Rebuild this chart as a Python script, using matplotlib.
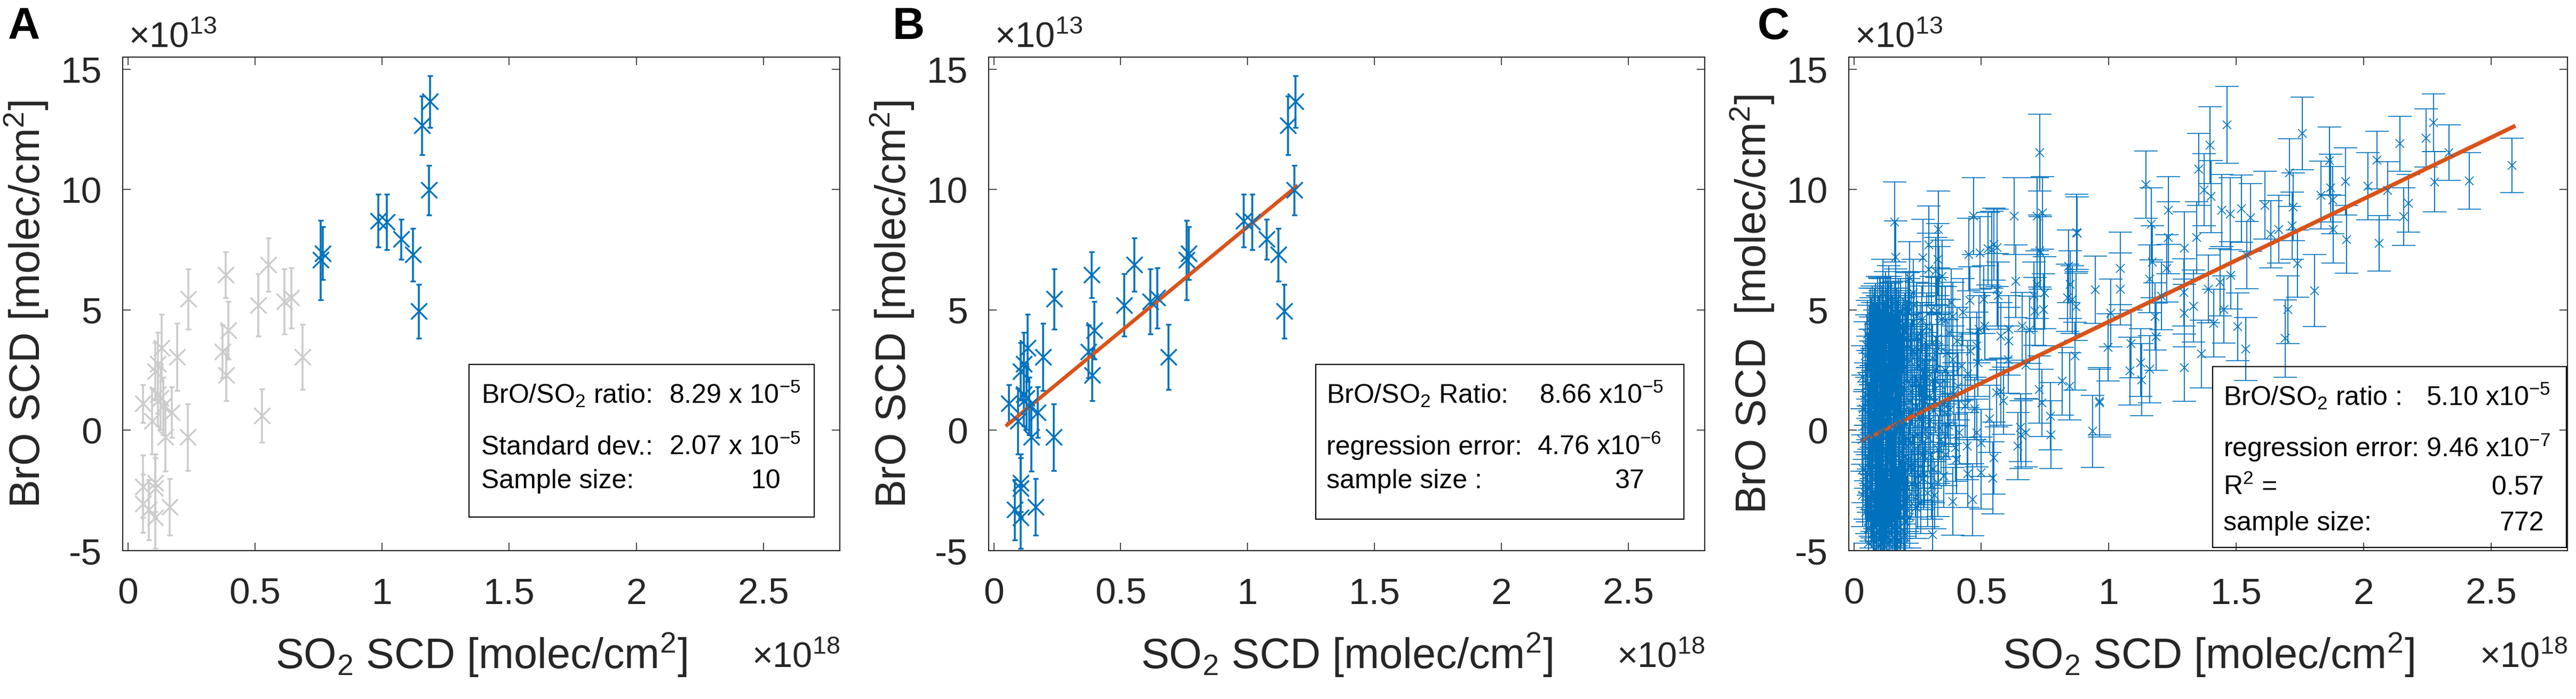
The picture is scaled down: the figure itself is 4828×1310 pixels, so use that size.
import numpy as np
import matplotlib
matplotlib.use('Agg')
import matplotlib.pyplot as plt
from matplotlib.patches import Rectangle

plt.rcParams['font.family'] = ['Liberation Sans', 'DejaVu Sans']
plt.rcParams['mathtext.fontset'] = 'custom'
plt.rcParams['mathtext.rm'] = 'Liberation Sans'
plt.rcParams['mathtext.it'] = 'Liberation Sans:italic'
plt.rcParams['mathtext.bf'] = 'Liberation Sans:bold'

# values: SO2 in 1e18 molec/cm2, BrO and errors in 1e13 molec/cm2
# points used for the ratio in A (blue)
ratio_pts = [
    (0.759, 7.07, 1.65), (0.767, 7.35, 1.10), (0.985, 8.70, 1.10), (1.019, 8.65, 1.15),
    (1.075, 7.94, 0.83), (1.122, 7.29, 1.10), (1.145, 4.94, 1.12), (1.158, 12.67, 1.22),
    (1.188, 13.65, 1.08), (1.184, 9.98, 1.03),
]
# rest of the 37 points of B (gray in A)
other_pts = [
    (0.059, 1.11, 0.78), (0.096, 0.38, 1.36), (0.107, 2.44, 1.20), (0.119, 2.76, 1.30),
    (0.119, 1.49, 1.30), (0.129, 1.34, 1.30), (0.133, 3.42, 1.40), (0.148, -0.29, 1.40),
    (0.174, 0.75, 1.05), (0.194, 3.04, 1.40), (0.239, 5.45, 1.25), (0.237, -0.29, 1.39),
    (0.373, 3.27, 1.10), (0.396, 4.16, 1.20), (0.388, 2.30, 1.07), (0.385, 6.46, 0.95),
    (0.513, 5.20, 1.30), (0.553, 6.88, 1.10), (0.616, 5.35, 1.35), (0.644, 5.50, 1.25),
    (0.688, 3.04, 1.35), (0.107, -2.18, 1.20), (0.107, -2.40, 1.25), (0.107, -3.62, 1.30),
    (0.165, -3.18, 1.17), (0.140, 1.00, 1.20), (0.082, -3.30, 1.25),
]
# gray points only seen in A
a_extra_pts = [(0.528, 0.61, 1.10), (0.060, -2.33, 1.30), (0.060, -3.04, 1.20)]

fit_b_x = [0.047, 1.197]
fit_b_y = [0.17, 10.17]

# panel C, dense part at low SO2
c_cluster = [
    (0.034, 2.2, 1.3), (0.036, 0.9, 1.4), (0.033, -0.4, 1.3), (0.037, -1.6, 1.4), (0.035, -2.7, 1.3),
    (0.044, 3.1, 1.4), (0.046, 1.5, 1.3), (0.043, 0.2, 1.4), (0.047, -1.1, 1.3), (0.045, -2.3, 1.4), (0.048, -3.4, 1.3),
    (0.054, 4.0, 1.4), (0.056, 2.6, 1.3), (0.053, 1.2, 1.4), (0.057, -0.3, 1.3), (0.055, -1.8, 1.4), (0.052, -3.0, 1.3), (0.058, -4.1, 1.4),
    (0.064, 4.6, 1.3), (0.066, 3.3, 1.4), (0.063, 1.9, 1.3), (0.067, 0.5, 1.4), (0.065, -0.9, 1.3), (0.062, -2.4, 1.4), (0.068, -3.6, 1.3),
    (0.074, 3.9, 1.4), (0.076, 2.4, 1.3), (0.073, 1.0, 1.4), (0.077, -0.5, 1.3), (0.075, -1.5, 1.4), (0.072, -2.9, 1.3), (0.078, -4.3, 1.4),
    (0.084, 4.8, 1.3), (0.086, 3.0, 1.4), (0.083, 1.6, 1.3), (0.087, 0.1, 1.4), (0.085, -1.2, 1.3), (0.082, -2.0, 1.4), (0.088, -3.3, 1.3), (0.086, -4.6, 1.4),
    (0.094, 4.2, 1.4), (0.096, 2.1, 1.3), (0.093, 0.7, 1.4), (0.097, -0.7, 1.3), (0.095, -2.6, 1.4), (0.092, -3.9, 1.3),
    (0.104, 5.0, 1.3), (0.106, 3.6, 1.4), (0.103, 2.3, 1.3), (0.107, 1.1, 1.4), (0.105, -0.2, 1.3), (0.102, -1.4, 1.4), (0.108, -3.0, 1.3), (0.106, -4.4, 1.4),
    (0.114, 4.4, 1.4), (0.116, 2.8, 1.3), (0.113, 1.4, 1.4), (0.117, 0.0, 1.3), (0.115, -1.9, 1.4), (0.112, -3.5, 1.3), (0.118, -4.8, 1.4),
    (0.124, 5.3, 1.3), (0.126, 3.7, 1.4), (0.123, 2.0, 1.3), (0.127, 0.6, 1.4), (0.125, -0.8, 1.3), (0.122, -2.2, 1.4), (0.128, -3.8, 1.3),
    (0.134, 4.7, 1.4), (0.136, 3.2, 1.3), (0.133, 1.7, 1.4), (0.137, 0.3, 1.3), (0.135, -1.3, 1.4), (0.132, -2.8, 1.3), (0.138, -4.2, 1.4),
    (0.144, 5.1, 1.3), (0.146, 3.9, 1.4), (0.143, 2.5, 1.3), (0.147, 0.9, 1.4), (0.145, -0.6, 1.3), (0.142, -1.7, 1.4), (0.148, -3.1, 1.3), (0.146, -4.6, 1.4),
    (0.154, 4.5, 1.4), (0.156, 2.9, 1.3), (0.153, 1.3, 1.4), (0.157, -0.1, 1.3), (0.155, -2.4, 1.4), (0.152, -3.7, 1.3),
    (0.164, 5.4, 1.3), (0.166, 3.5, 1.4), (0.163, 2.2, 1.3), (0.167, 0.8, 1.4), (0.165, -1.0, 1.3), (0.162, -2.7, 1.4), (0.168, -4.1, 1.3),
    (0.174, 4.9, 1.4), (0.176, 3.0, 1.3), (0.173, 1.5, 1.4), (0.177, -0.4, 1.3), (0.175, -1.8, 1.4), (0.172, -3.3, 1.3),
    (0.184, 4.3, 1.3), (0.186, 2.6, 1.4), (0.183, 1.1, 1.3), (0.187, -0.9, 1.4), (0.185, -2.5, 1.3), (0.182, -4.0, 1.4),
    (0.194, 4.1, 1.4), (0.196, 2.4, 1.3), (0.193, 0.4, 1.4), (0.197, -1.5, 1.3), (0.195, -3.0, 1.4),
    (0.208, 3.8, 1.4), (0.212, 2.0, 1.3), (0.207, 0.2, 1.4), (0.213, -1.2, 1.3), (0.210, -2.8, 1.4),
    (0.224, 4.4, 1.3), (0.227, 1.6, 1.4), (0.222, -0.5, 1.3), (0.226, -2.2, 1.4),
    (0.238, 3.2, 1.4), (0.242, 1.0, 1.3), (0.239, -0.8, 1.4), (0.243, -3.2, 1.3),
    (0.253, 2.7, 1.3), (0.257, 0.5, 1.4), (0.254, -1.9, 1.3),
    (0.268, 3.5, 1.4), (0.272, 1.3, 1.3), (0.270, -1.0, 1.4),
    (0.288, 2.2, 1.3), (0.292, -0.3, 1.4),
    (0.308, 3.0, 1.4), (0.312, 0.8, 1.3), (0.311, -1.6, 1.4),
    (0.338, 1.9, 1.3), (0.342, -0.4, 1.4),
    (0.358, 2.5, 1.4), (0.362, -1.0, 1.3),
]
# more of the dense part, filling between the ones above
c_cluster2 = [
    (0.051, 3.5, 1.3), (0.059, 0.6, 1.4), (0.061, -1.3, 1.3), (0.069, 2.8, 1.4), (0.071, -2.0, 1.3),
    (0.079, 4.3, 1.4), (0.081, 0.4, 1.3), (0.089, -0.8, 1.4), (0.091, 2.7, 1.3), (0.099, -3.2, 1.4),
    (0.101, 1.8, 1.3), (0.109, 4.1, 1.4), (0.111, -1.0, 1.3), (0.119, 3.1, 1.4), (0.121, -2.9, 1.3),
    (0.129, 1.2, 1.4), (0.131, -4.4, 1.3), (0.139, 2.4, 1.4), (0.141, -0.3, 1.3), (0.149, 4.2, 1.4),
    (0.151, -2.0, 1.3), (0.159, 3.8, 1.4), (0.161, 0.2, 1.3), (0.169, -3.4, 1.4), (0.171, 2.6, 1.3),
    (0.179, 0.7, 1.4), (0.181, -4.6, 1.3), (0.189, 3.6, 1.4), (0.191, -1.9, 1.3), (0.199, 1.7, 1.4),
    (0.201, -3.8, 1.3), (0.056, 1.9, 1.4), (0.066, -3.1, 1.3), (0.076, 3.4, 1.4), (0.086, -2.6, 1.3),
    (0.096, 3.8, 1.4), (0.106, -2.5, 1.3), (0.116, 4.9, 1.4), (0.126, -1.5, 1.3), (0.136, 4.0, 1.4),
    (0.146, -3.5, 1.3), (0.156, 3.4, 1.4), (0.166, -1.9, 1.3), (0.176, 4.4, 1.4), (0.186, -3.2, 1.3),
    (0.196, 3.0, 1.4), (0.058, -4.7, 1.3), (0.068, 4.1, 1.4), (0.078, -3.8, 1.3), (0.088, 2.2, 1.4),
    (0.098, -4.8, 1.3), (0.108, 0.3, 1.4), (0.118, -4.0, 1.3), (0.128, 4.4, 1.4), (0.138, -3.4, 1.3),
    (0.148, 1.6, 1.4), (0.158, -4.5, 1.3), (0.168, 4.5, 1.4), (0.178, -2.6, 1.3), (0.188, 0.1, 1.4),
    (0.198, -4.4, 1.3), (0.053, -2.4, 1.4), (0.063, 2.9, 1.3), (0.073, -0.2, 1.4), (0.083, 3.7, 1.3),
    (0.093, -1.7, 1.4), (0.103, 4.5, 1.3), (0.113, -0.7, 1.4), (0.123, 2.8, 1.3), (0.133, -2.1, 1.4),
    (0.143, 3.3, 1.3), (0.153, -1.4, 1.4), (0.163, 1.6, 1.3), (0.173, -4.3, 1.4), (0.183, 3.3, 1.3),
    (0.193, -2.3, 1.4),
    (0.215, 4.9, 1.4), (0.218, -3.6, 1.3), (0.221, 2.9, 1.4), (0.229, -1.4, 1.3), (0.232, 0.8, 1.4),
    (0.236, 5.2, 1.4), (0.241, -2.3, 1.3), (0.247, 3.9, 1.4), (0.251, -0.2, 1.3), (0.259, 1.9, 1.4),
    (0.263, -3.0, 1.3), (0.266, 4.6, 1.4), (0.274, -2.0, 1.3), (0.279, 2.3, 1.4), (0.282, 0.0, 1.3),
    (0.286, 4.3, 1.4), (0.296, 1.4, 1.3), (0.301, -1.0, 1.4), (0.304, 5.0, 1.4), (0.315, 2.1, 1.3),
    (0.318, -2.7, 1.4), (0.326, 3.8, 1.4), (0.335, 0.1, 1.3), (0.345, 4.6, 1.4), (0.352, -1.9, 1.3),
    (0.365, 3.2, 1.4), (0.371, 0.2, 1.3), (0.382, 5.3, 1.4), (0.392, 1.5, 1.3), (0.405, 3.7, 1.4),
    (0.414, -0.1, 1.3), (0.428, 4.9, 1.4), (0.436, 1.0, 1.3), (0.447, -1.8, 1.4), (0.455, 5.4, 1.4),
    (0.474, 0.9, 1.3), (0.482, 3.5, 1.4),
]
c_cluster3 = [
    (0.081, 4.6, 1.3), (0.084, -0.4, 1.4), (0.087, -3.9, 1.3), (0.091, 1.1, 1.4), (0.094, 5.1, 1.3),
    (0.097, -2.2, 1.4), (0.100, 3.3, 1.3), (0.103, -3.6, 1.4), (0.105, 1.6, 1.3), (0.108, -1.8, 1.4),
    (0.110, 4.7, 1.3), (0.112, 2.1, 1.4), (0.114, -4.3, 1.3), (0.117, -2.6, 1.4), (0.119, 0.9, 1.3),
    (0.121, 3.9, 1.4), (0.124, -3.3, 1.3), (0.126, 1.9, 1.4), (0.128, -0.2, 1.3), (0.130, 5.0, 1.4),
    (0.132, -1.1, 1.3), (0.134, 2.7, 1.4), (0.137, -4.7, 1.3), (0.139, 0.5, 1.4), (0.141, 3.6, 1.3),
    (0.143, -2.5, 1.4), (0.145, 4.5, 1.3), (0.148, -0.9, 1.4), (0.150, 2.2, 1.3), (0.152, -4.1, 1.4),
    (0.154, 0.7, 1.3), (0.157, 3.0, 1.4), (0.159, -2.8, 1.3), (0.161, 4.8, 1.4), (0.163, -0.6, 1.3),
    (0.165, 2.9, 1.4), (0.167, -3.9, 1.3), (0.170, 1.2, 1.4), (0.172, 4.1, 1.3), (0.174, -2.3, 1.4),
    (0.176, 0.3, 1.3), (0.179, 3.4, 1.4), (0.181, -1.4, 1.3), (0.183, 4.9, 1.4), (0.185, -3.6, 1.3),
    (0.188, 1.9, 1.4), (0.190, -0.5, 1.3), (0.192, 3.9, 1.4), (0.195, -4.2, 1.3), (0.197, 1.1, 1.4),
    (0.200, 4.4, 1.3), (0.203, -1.7, 1.4), (0.206, 2.6, 1.3), (0.209, -3.3, 1.4), (0.205, 5.3, 1.3),
    (0.060, 3.8, 1.4), (0.062, -0.5, 1.3), (0.065, 2.3, 1.4), (0.067, -3.3, 1.3), (0.070, 1.3, 1.4),
    (0.072, 4.7, 1.3), (0.074, -1.0, 1.4), (0.077, -4.6, 1.3), (0.079, 2.0, 1.4), (0.082, -2.8, 1.3),
    (0.085, 0.9, 1.4), (0.088, 4.0, 1.3), (0.090, -1.6, 1.4), (0.092, -4.3, 1.3), (0.095, 3.0, 1.4),
    (0.098, 0.1, 1.3), (0.101, -0.9, 1.4), (0.104, 2.9, 1.3), (0.107, -4.0, 1.4), (0.109, 1.4, 1.3),
    (0.113, 3.5, 1.4), (0.116, -1.6, 1.3), (0.120, 1.6, 1.4), (0.123, -4.6, 1.3), (0.127, 3.2, 1.4),
    (0.131, -2.4, 1.3), (0.135, 0.9, 1.4), (0.140, -3.9, 1.3), (0.144, 1.2, 1.4), (0.149, -1.3, 1.3),
    (0.153, 3.7, 1.4), (0.158, -0.7, 1.3), (0.162, -4.7, 1.4), (0.166, 2.4, 1.3), (0.171, -2.9, 1.4),
    (0.175, 1.9, 1.3), (0.180, -0.2, 1.4), (0.184, -4.6, 1.3), (0.189, 2.8, 1.4), (0.194, -1.2, 1.3),
    (0.199, 0.8, 1.4), (0.204, -2.3, 1.3), (0.211, 3.4, 1.4), (0.216, -0.4, 1.3), (0.220, 1.2, 1.4),
    (0.230, 3.3, 1.3), (0.235, -1.6, 1.4), (0.245, 2.1, 1.3), (0.250, -2.7, 1.4), (0.260, 4.0, 1.3),
    (0.265, 0.9, 1.4), (0.277, -1.8, 1.3), (0.283, 3.0, 1.4), (0.298, 0.4, 1.3), (0.305, -2.3, 1.4),
    (0.320, 1.2, 1.3), (0.330, 3.4, 1.4), (0.348, 1.1, 1.3),
]
# panel C, scattered points below 1e18
c_low = [
    (0.159, 8.65, 1.67), (0.164, 7.20, 1.5), (0.218, 6.33, 1.5), (0.271, 7.16, 1.6), (0.294, 7.71, 1.6),
    (0.332, 8.34, 1.6), (0.329, 7.09, 1.5), (0.294, 6.68, 1.5), (0.346, 6.40, 1.5), (0.325, 4.94, 1.4),
    (0.388, 4.74, 1.4), (0.374, 4.04, 1.4), (0.469, 8.89, 1.6), (0.451, 7.30, 1.5), (0.496, 7.37, 1.5),
    (0.542, 7.50, 1.6), (0.563, 7.58, 1.6), (0.629, 8.89, 1.6), (0.636, 6.19, 1.5), (0.720, 8.89, 1.6),
    (0.731, 7.37, 1.5), (0.729, 11.53, 1.6), (0.843, 6.81, 1.5), (0.874, 8.20, 1.6), (0.857, 5.43, 1.4),
    (0.948, 5.84, 1.4), (0.965, 1.20, 1.4), (0.937, -0.04, 1.5), (0.846, 1.83, 1.4), (0.818, 2.04, 1.4),
    (0.773, -0.18, 1.4), (0.657, -0.18, 1.4), (0.643, -0.66, 1.4), (0.675, -0.11, 1.4), (0.738, 1.14, 1.4),
    (0.727, 1.69, 1.4), (0.748, 5.71, 1.5), (0.745, 5.01, 1.5), (0.689, 4.18, 1.4), (0.661, 4.32, 1.4),
    (0.605, 2.94, 1.4), (0.608, 3.70, 1.4), (0.577, 3.91, 1.4), (0.559, 1.55, 1.4), (0.545, -1.98, 1.5),
    (0.549, -1.15, 1.5), (0.563, 5.84, 1.5), (0.510, 5.43, 1.4), (0.514, 4.32, 1.4), (0.486, 2.80, 1.4),
    (0.500, -0.53, 1.4), (0.500, -1.77, 1.5), (0.465, -2.88, 1.5), (0.444, -0.66, 1.4), (0.483, -0.11, 1.4),
    (0.458, 3.28, 1.4), (0.423, 2.66, 1.4), (0.388, 2.94, 1.4), (0.388, -2.95, 1.4), (0.402, -1.22, 1.4),
    (0.409, 1.83, 1.4), (0.367, 1.07, 1.4), (0.378, 0.86, 1.4), (0.357, 0.72, 1.4), (0.332, -0.80, 1.4),
    (0.329, -2.19, 1.4), (0.308, -4.34, 1.4), (0.290, -2.60, 1.4), (0.322, 2.52, 1.4), (0.276, 1.55, 1.4),
    (0.269, 0.44, 1.4), (0.269, -0.53, 1.4), (0.262, -1.50, 1.4), (0.297, 3.49, 1.4), (0.269, 3.91, 1.4),
    (0.262, 2.80, 1.4), (0.283, 2.66, 1.4), (0.245, 4.74, 1.4), (0.234, 5.71, 1.4), (0.213, 5.15, 1.4),
    (0.115, 5.71, 1.4), (0.136, 5.43, 1.4), (0.147, 4.74, 1.4), (0.101, 4.94, 1.4), (0.098, 4.18, 1.4),
    (0.073, -3.16, 1.3), (0.080, -4.40, 1.3), (0.122, -4.40, 1.3), (0.171, -4.27, 1.3), (0.157, -3.30, 1.3),
    (0.199, -2.60, 1.3), (0.964, 1.13, 1.4), (0.877, 8.19, 1.5), (0.872, 5.13, 1.4), (0.868, 3.08, 1.4),
    (0.849, 6.05, 1.4), (0.838, 5.50, 1.4), (0.772, 0.58, 1.4), (0.740, 9.03, 1.5), (0.729, 7.45, 1.5),
    (0.718, 6.05, 1.4), (0.711, 4.94, 1.4), (0.707, 5.59, 1.4), (0.675, 2.71, 1.4), (0.655, 0.11, 1.4),
    (0.609, 4.20, 1.4), (0.587, 1.23, 1.4), (0.577, 1.60, 1.4), (0.566, 5.59, 1.4), (0.550, 7.73, 1.5),
    (0.533, 0.48, 1.4), (0.527, 7.54, 1.5), (0.490, 4.20, 1.4), (0.446, 2.34, 1.4), (0.398, -0.72, 1.4),
    (0.359, 4.57, 1.4), (0.333, 6.24, 1.4), (0.322, 6.61, 1.4),
]
# panel C, points above 1e18
c_high = [
    (1.045, 6.72, 1.5), (1.045, 5.87, 1.5), (1.007, 4.87, 1.4), (0.997, 3.45, 1.4), (1.087, 3.59, 1.4),
    (1.084, 2.46, 1.4), (1.126, 2.81, 1.4), (1.129, 2.10, 1.5), (1.161, 2.53, 1.4), (1.147, 10.20, 1.4),
    (1.168, 8.57, 1.5), (1.171, 7.00, 1.5), (1.161, 6.29, 1.4), (1.182, 4.73, 1.4), (1.185, 3.88, 1.4),
    (1.206, 5.58, 1.4), (1.234, 9.13, 1.4), (1.234, 8.00, 1.5), (1.227, 6.72, 1.4), (1.297, 7.57, 1.5),
    (1.294, 5.72, 1.4), (1.297, 4.87, 1.4), (1.297, 2.60, 1.4), (1.332, 5.16, 1.5), (1.346, 8.00, 1.5),
    (1.353, 10.84, 1.5), (1.374, 9.99, 1.5), (1.398, 11.84, 1.6), (1.402, 9.71, 1.5), (1.364, 3.17, 1.4),
    (1.392, 5.87, 1.4), (1.413, 4.45, 1.4), (1.437, 6.15, 1.4), (1.444, 9.13, 1.5), (1.465, 12.69, 1.6),
    (1.476, 8.99, 1.5), (1.479, 6.44, 1.4), (1.451, 5.02, 1.4), (1.507, 4.30, 1.4), (1.538, 3.38, 1.3),
    (1.521, 9.20, 1.4), (1.556, 8.84, 1.4), (1.542, 7.28, 1.4), (1.612, 9.35, 1.4), (1.637, 8.14, 1.4),
    (1.668, 8.35, 1.4), (1.710, 10.70, 1.4), (1.724, 9.28, 1.4), (1.720, 8.49, 1.4), (1.741, 6.93, 1.4),
    (1.703, 5.01, 1.4), (1.692, 3.81, 1.6), (1.759, 12.33, 1.5), (1.808, 5.80, 1.5), (1.832, 9.77, 1.4),
    (1.867, 11.19, 1.4), (1.871, 10.06, 1.4), (1.878, 9.56, 1.4), (1.881, 8.35, 1.4), (1.930, 10.34, 1.4),
    (1.934, 7.93, 1.4), (2.017, 10.13, 1.4), (2.052, 11.22, 1.2), (2.060, 7.76, 1.15), (2.095, 9.95, 1.2),
    (2.143, 11.90, 1.15), (2.158, 8.88, 1.2), (2.176, 9.43, 1.2), (2.245, 12.14, 1.2), (2.274, 12.78, 1.2),
    (2.278, 10.32, 1.25), (2.335, 11.53, 1.16), (2.415, 10.36, 1.18), (2.583, 11.01, 1.13),
]

fit_c_x = [0.028, 2.596]
fit_c_y = [-0.45, 12.65]

xtick_vals = [0, 0.5, 1, 1.5, 2, 2.5]
xtick_labels = ['0', '0.5', '1', '1.5', '2', '2.5']
ytick_vals = [-5, 0, 5, 10, 15]
ytick_labels = ['-5', '0', '5', '10', '15']

blue = '#0072BD'
gray = '#CCCCCC'
orange = '#D95319'
dark = '#262626'

W, H = 4828, 1310
fig = plt.figure(figsize=(W / 100, H / 100), dpi=100)
lefts = [230, 1853, 3465]
widths = [1344, 1342, 1347]
axes = [fig.add_axes([l / W, 1 - 1032 / H, w / W, 925 / H]) for l, w in zip(lefts, widths)]


def style(ax, ylabel):
    ax.set_xlim(-0.02, 2.8)
    ax.set_ylim(-5, 15.5)
    ax.set_xticks(xtick_vals)
    ax.set_xticklabels(xtick_labels)
    ax.set_yticks(ytick_vals)
    ax.set_yticklabels(ytick_labels)
    ax.tick_params(direction='in', length=11, width=1.2, top=True, right=True,
                   labelsize=50, colors=dark)
    ax.tick_params(axis='x', pad=36)
    ax.tick_params(axis='y', pad=28)
    for s in ax.spines.values():
        s.set_color(dark)
        s.set_linewidth(1.5)
    ax.set_xlabel('SO$_2$ SCD [molec/cm$^2$]', fontsize=57, color=dark, labelpad=26)
    ax.set_ylabel(ylabel, fontsize=57, color=dark, labelpad=14)
    ax.text(0.008, 1.02, '\u00d710$^{13}$', transform=ax.transAxes, fontsize=48,
            color=dark, ha='left', va='baseline')
    ax.text(1.0, -0.236, '\u00d710$^{18}$', transform=ax.transAxes, fontsize=48,
            color=dark, ha='right', va='baseline')


def draw_pts(ax, pts, color, ms, mew, lw, cap):
    a = np.array(pts)
    ax.errorbar(a[:, 0], a[:, 1], yerr=a[:, 2], fmt='x', color=color, ms=ms, mew=mew,
                elinewidth=lw, capsize=cap, capthick=lw)


def box(ax, x0, x1, y0, y1):
    ax.add_patch(Rectangle((x0, y0), x1 - x0, y1 - y0, transform=ax.transAxes,
                           fill=False, ec='k', lw=1.6, clip_on=False, zorder=5))


# A
ax = axes[0]
draw_pts(ax, other_pts + a_extra_pts, gray, 22, 2.4, 2.6, 3.5)
draw_pts(ax, ratio_pts, blue, 22, 2.4, 2.6, 3.5)
style(ax, 'BrO SCD [molec/cm$^2$]')
box(ax, 0.483, 0.964, 0.068, 0.377)
fs = 36
ax.text(0.500, 0.298, 'BrO/SO$_2$ ratio:', transform=ax.transAxes, fontsize=fs, va='baseline')
ax.text(0.762, 0.298, '8.29 x 10$^{-5}$', transform=ax.transAxes, fontsize=fs, va='baseline')
ax.text(0.500, 0.195, 'Standard dev.:', transform=ax.transAxes, fontsize=fs, va='baseline')
ax.text(0.762, 0.195, '2.07 x 10$^{-5}$', transform=ax.transAxes, fontsize=fs, va='baseline')
ax.text(0.500, 0.126, 'Sample size:', transform=ax.transAxes, fontsize=fs, va='baseline')
ax.text(0.917, 0.126, '10', transform=ax.transAxes, fontsize=fs, va='baseline', ha='right')

# B
ax = axes[1]
draw_pts(ax, other_pts + ratio_pts, blue, 22, 2.4, 2.6, 3.5)
ax.plot(fit_b_x, fit_b_y, color=orange, lw=5, solid_capstyle='butt')
style(ax, 'BrO SCD [molec/cm$^2$]')
box(ax, 0.457, 0.971, 0.064, 0.377)
ax.text(0.472, 0.298, 'BrO/SO$_2$ Ratio:', transform=ax.transAxes, fontsize=fs, va='baseline')
ax.text(0.769, 0.298, '8.66 x10$^{-5}$', transform=ax.transAxes, fontsize=fs, va='baseline')
ax.text(0.472, 0.195, 'regression error:', transform=ax.transAxes, fontsize=fs, va='baseline')
ax.text(0.766, 0.195, '4.76 x10$^{-6}$', transform=ax.transAxes, fontsize=fs, va='baseline')
ax.text(0.472, 0.126, 'sample size :', transform=ax.transAxes, fontsize=fs, va='baseline')
ax.text(0.916, 0.126, '37', transform=ax.transAxes, fontsize=fs, va='baseline', ha='right')

# C
ax = axes[2]
draw_pts(ax, c_cluster + c_cluster2 + c_cluster3 + c_low + c_high, blue, 12, 1.2, 1.4, 16)
ax.plot(fit_c_x, fit_c_y, color=orange, lw=5.5, solid_capstyle='butt')
style(ax, 'BrO SCD  [molec/cm$^2$]')
box(ax, 0.506, 0.9985, 0.0065, 0.373)
ax.text(0.521, 0.294, 'BrO/SO$_2$ ratio :', transform=ax.transAxes, fontsize=fs, va='baseline')
ax.text(0.803, 0.294, '5.10 x10$^{-5}$', transform=ax.transAxes, fontsize=fs, va='baseline')
ax.text(0.521, 0.190, 'regression error: 9.46 x10$^{-7}$', transform=ax.transAxes, fontsize=fs, va='baseline')
ax.text(0.521, 0.114, 'R$^2$ =', transform=ax.transAxes, fontsize=fs, va='baseline')
ax.text(0.967, 0.114, '0.57', transform=ax.transAxes, fontsize=fs, va='baseline', ha='right')
ax.text(0.521, 0.041, 'sample size:', transform=ax.transAxes, fontsize=fs, va='baseline')
ax.text(0.967, 0.041, '772', transform=ax.transAxes, fontsize=fs, va='baseline', ha='right')

# panel letters
for letter, px in zip(['A', 'B', 'C'], [15, 1672, 3294]):
    fig.text(px / W, 1 - 12 / H, letter, fontsize=60, weight='bold', va='top', ha='left')

fig.savefig('out.png', dpi=100)
